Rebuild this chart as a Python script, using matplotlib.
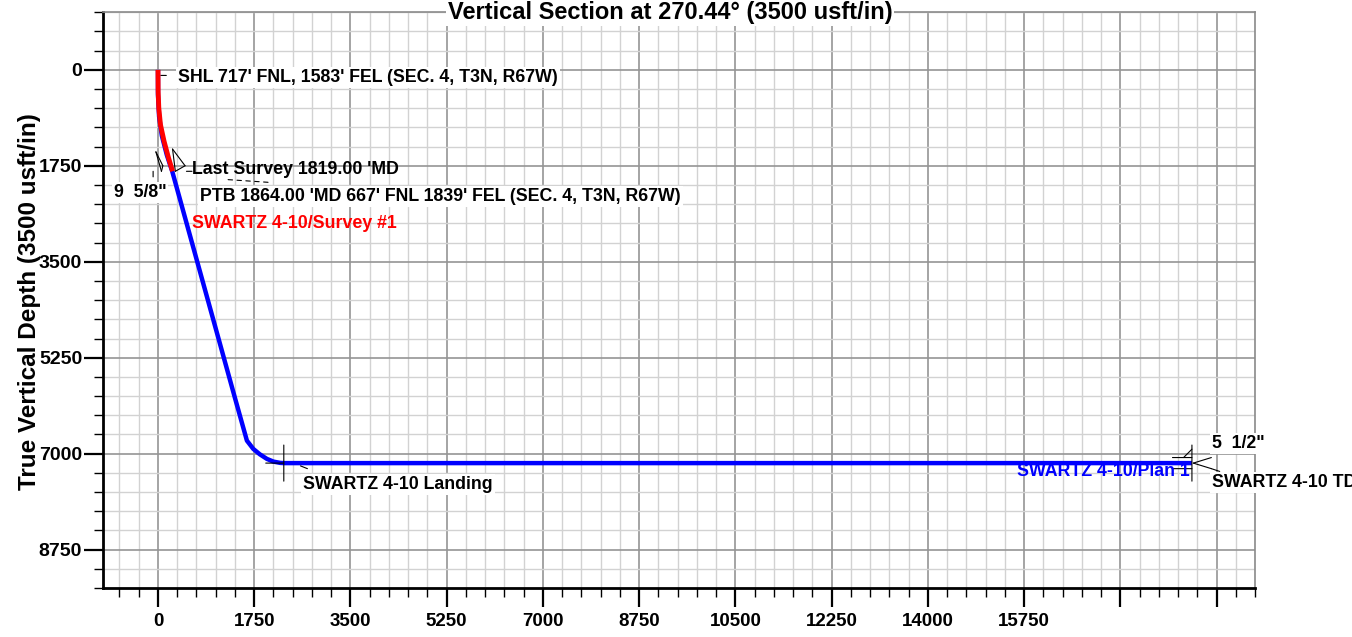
import numpy as np
import matplotlib
matplotlib.use("Agg")
import matplotlib.pyplot as plt
from matplotlib.transforms import offset_copy

# plan (blue) and survey (red) trajectories: vertical section vs TVD, usft
plan_vs = [0, 0, 20, 70, 160, 260, 1405, 1617, 1733, 1850, 1980, 2100, 2222, 2288, 18803]
plan_tvd = [0, 450, 850, 1200, 1550, 1855, 6003, 6762, 6913, 7010, 7095, 7145, 7168, 7172, 7172]
survey_vs = [0, 3, 15, 45, 110, 190, 265]
survey_tvd = [0, 400, 700, 1000, 1300, 1600, 1850]

landing = (2288, 7172)
td = (18803, 7172)
last_survey = (265, 1850)

x_major = list(range(0, 19251, 1750))
x_labels = [str(v) if v <= 15750 else "" for v in x_major]
y_major = list(range(0, 8751, 1750))

FONT = "Liberation Sans"
plt.rcParams["font.family"] = [FONT, "DejaVu Sans"]
plt.rcParams["font.weight"] = "bold"

fig = plt.figure(figsize=(13.52, 6.37), dpi=100)
ax = fig.add_axes([103 / 1352, 1 - 588 / 637, 1152 / 1352, 575.7 / 637])

ax.plot(plan_vs, plan_tvd, color="#0000ff", lw=3.2, solid_capstyle="butt", zorder=3)
ax.plot(survey_vs, survey_tvd, color="#ff0000", lw=3.5, solid_capstyle="butt", zorder=4)

ax.set_xlim(-1000, 19950)
ax.set_ylim(9450, -1050)

ax.set_xticks(x_major)
ax.set_xticklabels(x_labels)
ax.set_xticks(np.arange(-700, 19951, 350), minor=True)
ax.set_yticks(y_major)
ax.set_yticks(np.arange(-1050, 9451, 350), minor=True)

ax.tick_params(which="major", length=14, width=1.6, color="black")
ax.tick_params(which="minor", length=6.5, width=1, color="black")
ax.tick_params(axis="x", which="major", labelsize=13.5, pad=4)
ax.tick_params(axis="y", which="major", labelsize=14, pad=1)
for lab in ax.get_xticklabels() + ax.get_yticklabels():
    lab.set_fontweight("bold")

ax.set_axisbelow(True)
ax.grid(which="minor", color="#d2d2d2", lw=1)
ax.grid(which="major", color="#959595", lw=1.2)

for s in ["left", "bottom"]:
    ax.spines[s].set_linewidth(2)
    ax.spines[s].set_color("black")
for s in ["top", "right"]:
    ax.spines[s].set_linewidth(1.2)
    ax.spines[s].set_color("#8a8a8a")

def marks(pt, segs, lw=0.8, ls="-"):
    # short symbol strokes drawn in points around a data point
    for (x0, y0, x1, y1) in segs:
        tr0 = offset_copy(ax.transData, fig=fig, x=x0, y=y0, units="points")
        tr1 = offset_copy(ax.transData, fig=fig, x=x1, y=y1, units="points")
        ax.annotate("", xy=pt, xycoords=tr1, xytext=pt, textcoords=tr0,
                    arrowprops=dict(arrowstyle="-", lw=lw, ls=ls, color="black",
                                    shrinkA=0, shrinkB=0), annotation_clip=False)

# landing cross
marks(landing, [(0, 13, 0, -13), (-13, 0, 0, 0), (12, -2, 17, -4)])
# TD cross and 5 1/2" casing symbol
marks(td, [(0, 13, 0, -13), (-14, 4, 0, 4), (-14, -4, 0, -4),
           (1, 0, 14, 4), (1, 0, 14, -4), (-6, 4, 0, 10), (14, -4, 20, -6)])
# 9 5/8" casing symbol at last survey
marks(last_survey, [(-8, 0, -12, 14), (-12, 14, -7, 4), (-7, 4, -8, 0),
                    (2, 0, 0, 16), (0, 16, 9, 4), (9, 4, 2, 0),
                    (-14, -4, -14, 0), (10, 0, 14, 0)])
marks(last_survey, [(40, -6, 70, -8)], ls=(0, (4, 4)))
marks((0, 0), [(2, -4, 6, -4)])

box = dict(fc="white", ec="none", pad=1.5)
def label(txt, pt, dx, dy, ha="left", color="black", bbox=True):
    ax.annotate(txt, xy=pt, xytext=(dx, dy), textcoords="offset points",
                ha=ha, va="center", fontsize=12.8, fontweight="bold", color=color,
                bbox=box if bbox else None, annotation_clip=False, zorder=6)

label("SHL 717' FNL, 1583' FEL (SEC. 4, T3N, R67W)", (0, 0), 14.6, -5.3)
label("Last Survey 1819.00 'MD", last_survey, 14, 1, bbox=False)
label("9  5/8\"", last_survey, -4.5, -15.5, ha="right")
label("PTB 1864.00 'MD 667' FNL 1839' FEL (SEC. 4, T3N, R67W)", last_survey, 20, -18.3)
label("SWARTZ 4-10/Survey #1", last_survey, 14, -37.7, color="#ff0000", bbox=False)
label("SWARTZ 4-10 Landing", landing, 14, -15.6)
label("5  1/2\"", td, 14.6, 14)
label("SWARTZ 4-10 TD", td, 14.6, -14.2)
label("SWARTZ 4-10/Plan 1", td, -1.5, -6, ha="right", color="#0000ff", bbox=False)

fig.text(670 / 1352, 1 - 13 / 637, "Vertical Section at 270.44\u00b0 (3500 usft/in)",
         ha="center", va="center", fontsize=17, fontweight="bold",
         bbox=dict(fc="white", ec="none", pad=1))
fig.text(30 / 1352, 1 - 302 / 637, "True Vertical Depth (3500 usft/in)",
         ha="center", va="center", rotation=90, fontsize=17.5, fontweight="bold")

fig.savefig("out.png", dpi=100)
